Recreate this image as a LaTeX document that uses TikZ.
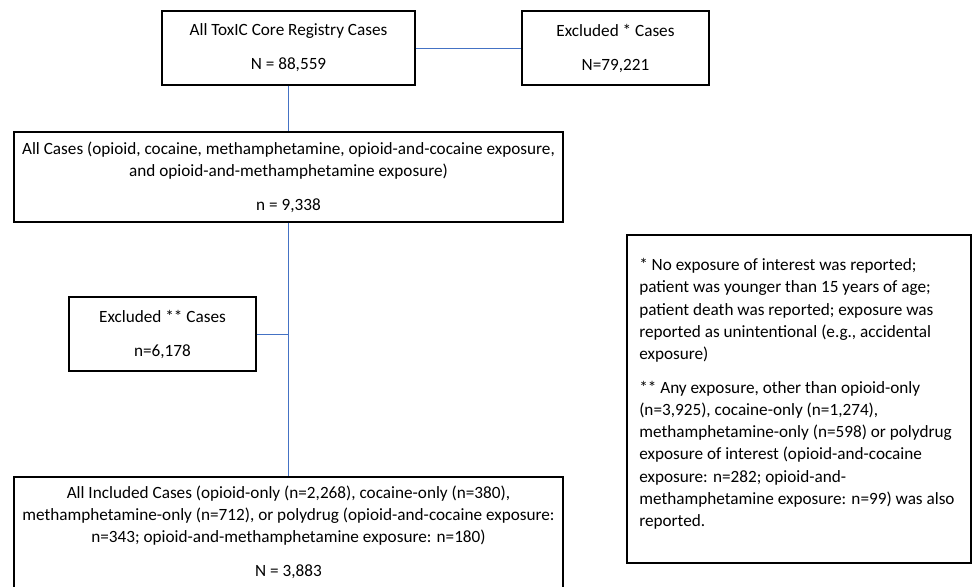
\documentclass[tikz,border=0pt]{standalone}
\usepackage{fontspec}
\setmainfont{Carlito}
\usepackage{tikz}
\usetikzlibrary{positioning}
\usepackage{xcolor}
\definecolor{linkblue}{HTML}{4472C4}

\begin{document}
\begin{tikzpicture}[x=0.75pt, y=-0.75pt,
		box/.style={draw, line width=0.9pt, inner sep=3pt, align=center, font=\fontsize{12.9}{16.5}\selectfont},
		link/.style={linkblue, line width=0.75pt}]
		\useasboundingbox (0,0) rectangle (973,586);
		\draw (288.5,48) node[box, minimum width=189.75pt, minimum height=55.5pt] (all) {All ToxIC Core Registry Cases\\[9pt]N = 88,559}
		(615.5,48) node[box, minimum width=140.25pt, minimum height=55.5pt] (excl1) {Excluded * Cases\\[9pt]N=79,221}
		(288.5,177) node[box, minimum width=411.75pt, minimum height=67.5pt] (cases) {All Cases (opioid, cocaine, methamphetamine, opioid-and-cocaine exposure,\\and opioid-and-methamphetamine exposure)\\[9pt]n = 9,338}
		(162.5,334) node[box, minimum width=140.25pt, minimum height=55.5pt] (excl2) {Excluded ** Cases\\[9pt]n=6,178}
		(288.5,532.5) node[box, minimum width=411.75pt, minimum height=83.25pt] (incl) {All Included Cases (opioid-only (n=2,268), cocaine-only (n=380),\\methamphetamine-only (n=712), or polydrug (opioid-and-cocaine exposure:\\n=343; opioid-and-methamphetamine exposure: n=180)\\[9pt]N = 3,883}
		(799,399) node[draw, line width=0.9pt, minimum width=258pt, minimum height=246pt] (note) {};
		\node[anchor=north west, inner sep=0pt, align=left, font=\fontsize{12.9}{16.7}\selectfont] (notetext) at (639,258) {* No exposure of interest was reported;\\patient was younger than 15 years of age;\\patient death was reported; exposure was\\reported as unintentional (e.g., accidental\\exposure)\\[8.5pt]** Any exposure, other than opioid-only\\(n=3,925), cocaine-only (n=1,274),\\methamphetamine-only (n=598) or polydrug\\exposure of interest (opioid-and-cocaine\\exposure: n=282; opioid-and-\\methamphetamine exposure: n=99) was also\\reported.};

		\coordinate (split) at (cases.south |- excl2.east);
		\draw[link] (all) -- (excl1);
		\draw[link] (all) -- (cases);
		\draw[link] (cases) -- (incl);
		\draw[link] (excl2) -- (split);
	\end{tikzpicture}
\end{document}
